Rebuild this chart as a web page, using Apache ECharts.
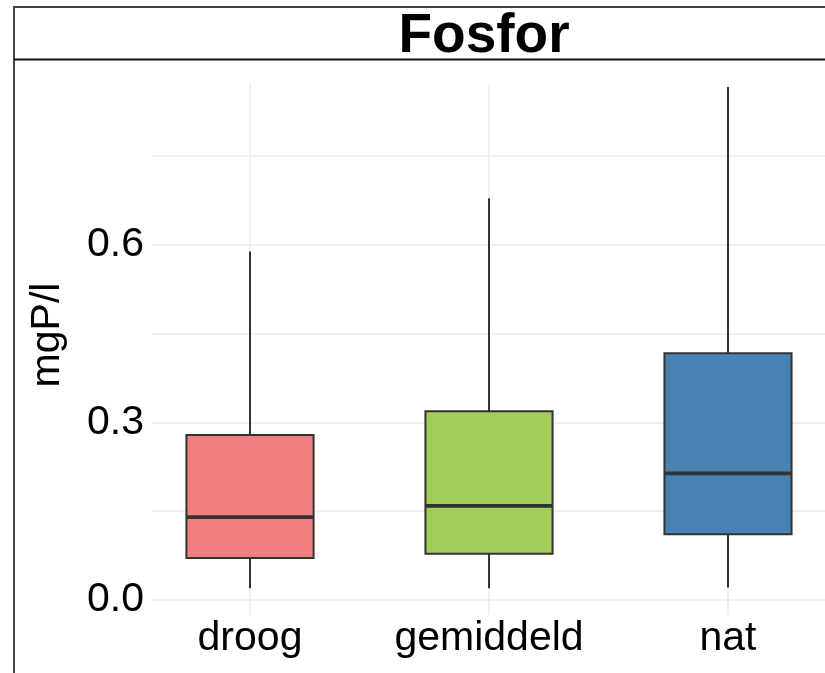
<!DOCTYPE html>
<html>
<head>
<meta charset="utf-8">
<script src="https://cdn.jsdelivr.net/npm/echarts@6/dist/echarts.min.js"></script>
<style>
  html, body { margin: 0; padding: 0; background: #ffffff; }
  #chart { width: 825px; height: 673px; }
</style>
</head>
<body>
<div id="chart"></div>
<script>
// Phosphorus concentration per weather class (box-and-whisker summary)
const categories = ['droog', 'gemiddeld', 'nat'];
const whiskerLow = [0.020, 0.020, 0.021];
const q1 = [0.071, 0.078, 0.111];
const median = [0.140, 0.159, 0.214];
const q3 = [0.279, 0.319, 0.417];
const whiskerHigh = [0.589, 0.679, 0.867];
const yTickValues = [0, 0.15, 0.3, 0.45, 0.6, 0.75];
const yLabelValues = [0, 0.3, 0.6];
const boxFills = ['#F08080', '#A2CD5A', '#4682B4'];

const FONT = '"Liberation Sans", Arial, sans-serif';

// value range of the panel (ggplot-style 5% expansion around the data)
const yMin = -0.0254;
const yMax = 0.8737;

// panel geometry
const panelTop = 83;
const panelHeight = 532;
const pxPerUnit = panelHeight / (yMax - yMin);
const tickStep = yTickValues[1] - yTickValues[0];
const tickTop = yTickValues[yTickValues.length - 1];

const boxData = categories.map((c, i) => [i, whiskerLow[i], q1[i], median[i], q3[i], whiskerHigh[i]]);

const chart = echarts.init(document.getElementById('chart'), null, { renderer: 'canvas' });

chart.setOption({
  animation: false,
  backgroundColor: '#ffffff',
  grid: [
    // grid 0: horizontal grid lines and tick labels
    {
      left: 152,
      width: 700,
      top: panelTop + (yMax - tickTop) * pxPerUnit,
      height: (tickTop - yTickValues[0]) * pxPerUnit,
      containLabel: false,
      outerBoundsMode: 'none'
    },
    // grid 1: the boxes on the categorical axis (runs past the right edge)
    {
      left: 130.5,
      width: 717,
      top: panelTop,
      height: panelHeight,
      containLabel: false,
      outerBoundsMode: 'none'
    }
  ],
  xAxis: [
    { gridIndex: 0, type: 'value', min: 0, max: 1, show: false },
    {
      gridIndex: 1,
      type: 'category',
      data: categories,
      boundaryGap: true,
      axisLine: { show: false },
      axisTick: { show: false },
      splitLine: { show: false },
      axisLabel: {
        interval: 0,
        hideOverlap: false,
        margin: 3,
        color: '#000000',
        fontFamily: FONT,
        fontSize: 41
      }
    }
  ],
  yAxis: [
    {
      gridIndex: 0,
      type: 'value',
      min: yTickValues[0],
      max: tickTop,
      interval: tickStep,
      axisLine: { show: false },
      axisTick: { show: false },
      splitLine: { show: true, lineStyle: { color: '#EBEBEB', width: 1.5 } },
      axisLabel: {
        margin: 8,
        color: '#000000',
        fontFamily: FONT,
        fontSize: 41,
        formatter: v => (yLabelValues.some(t => Math.abs(t - v) < 1e-9) ? v.toFixed(1) : '')
      }
    },
    {
      gridIndex: 1,
      type: 'value',
      min: yMin,
      max: yMax,
      show: false,
      splitLine: { show: false }
    }
  ],
  series: [
    {
      type: 'custom',
      xAxisIndex: 1,
      yAxisIndex: 1,
      clip: false,
      data: boxData,
      encode: { x: 0, y: [1, 2, 3, 4, 5] },
      renderItem(params, api) {
        const idx = api.value(0);
        const band = api.size([1, 0])[0];
        const half = band * 0.266;
        const pLow = api.coord([idx, api.value(1)]);
        const pQ1 = api.coord([idx, api.value(2)]);
        const pMed = api.coord([idx, api.value(3)]);
        const pQ3 = api.coord([idx, api.value(4)]);
        const pHigh = api.coord([idx, api.value(5)]);
        const pTop = api.coord([idx, yMax]);
        const pBottom = api.coord([idx, yMin]);
        const x = pMed[0];
        const edge = '#333333';
        return {
          type: 'group',
          children: [
            {
              type: 'line',
              shape: { x1: x, y1: pTop[1], x2: x, y2: pBottom[1] },
              style: { stroke: '#EBEBEB', lineWidth: 1.5 }
            },
            {
              type: 'line',
              shape: { x1: x, y1: pLow[1], x2: x, y2: pQ1[1] },
              style: { stroke: edge, lineWidth: 2 }
            },
            {
              type: 'line',
              shape: { x1: x, y1: pQ3[1], x2: x, y2: pHigh[1] },
              style: { stroke: edge, lineWidth: 2 }
            },
            {
              type: 'rect',
              shape: { x: x - half, y: pQ3[1], width: half * 2, height: pQ1[1] - pQ3[1] },
              style: { fill: boxFills[params.dataIndex], stroke: edge, lineWidth: 2 }
            },
            {
              type: 'line',
              shape: { x1: x - half, y1: pMed[1], x2: x + half, y2: pMed[1] },
              style: { stroke: edge, lineWidth: 3.6 }
            }
          ]
        };
      }
    }
  ],
  graphic: [
    // outer frame and facet strip
    {
      type: 'line',
      shape: { x1: 14, y1: 7, x2: 830, y2: 7 },
      style: { stroke: '#444444', lineWidth: 2 }
    },
    {
      type: 'line',
      shape: { x1: 14, y1: 6, x2: 14, y2: 680 },
      style: { stroke: '#444444', lineWidth: 2 }
    },
    {
      type: 'line',
      shape: { x1: 14, y1: 59.5, x2: 830, y2: 59.5 },
      style: { stroke: '#111111', lineWidth: 2 }
    },
    {
      type: 'text',
      x: 484,
      y: 37,
      style: {
        text: 'Fosfor',
        fill: '#000000',
        font: 'bold 55px ' + FONT,
        textAlign: 'center',
        textVerticalAlign: 'middle'
      }
    },
    {
      type: 'text',
      x: 48,
      y: 335,
      rotation: Math.PI / 2,
      style: {
        text: 'mgP/l',
        fill: '#000000',
        font: '41px ' + FONT,
        textAlign: 'center',
        textVerticalAlign: 'middle'
      }
    }
  ]
});
</script>
</body>
</html>
